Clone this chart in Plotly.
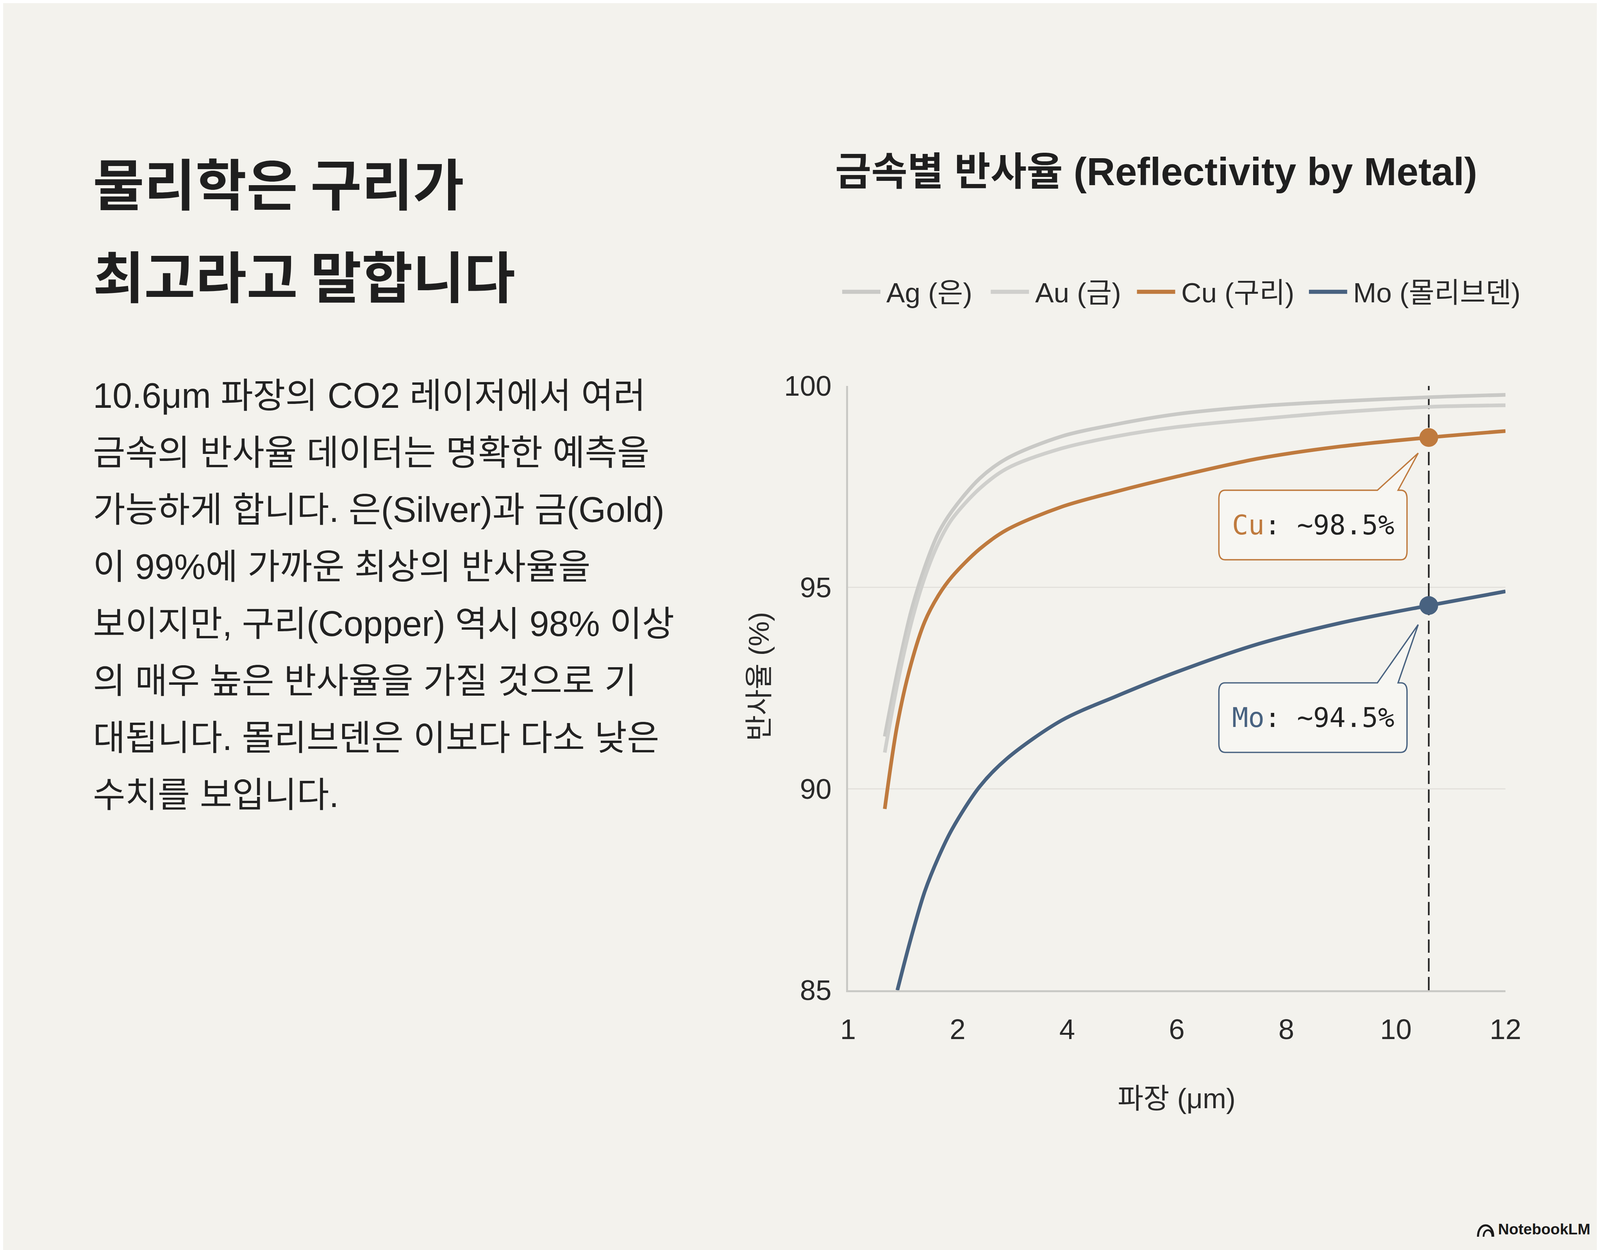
import plotly.graph_objects as go

# ---------------- data ----------------
wavelength = [0.67, 0.9, 1.15, 1.4, 1.65, 1.9, 2.4, 2.9, 3.9, 4.9, 6.0, 7.5, 9.0, 10.6, 12.0]
ag_reflect = [91.3, 92.9, 94.4, 95.5, 96.35, 96.9, 97.7, 98.2, 98.75, 99.05, 99.3, 99.5, 99.62, 99.72, 99.78]
au_reflect = [90.9, 92.6, 94.1, 95.25, 96.1, 96.7, 97.45, 97.95, 98.45, 98.75, 98.98, 99.18, 99.35, 99.48, 99.52]
cu_reflect = [89.5, 91.6, 93.1, 94.15, 94.8, 95.27, 95.95, 96.43, 97.0, 97.38, 97.75, 98.2, 98.5, 98.72, 98.88]
mo_wavelength = [0.9, 1.15, 1.4, 1.65, 1.9, 2.4, 2.9, 3.9, 4.9, 6.0, 7.5, 9.0, 10.6, 12.0]
mo_reflect = [85.0, 86.3, 87.45, 88.3, 89.0, 90.05, 90.75, 91.7, 92.3, 92.9, 93.6, 94.12, 94.55, 94.9]

series_names = ["Ag (은)", "Au (금)", "Cu (구리)", "Mo (몰리브덴)"]
series_x = [wavelength, wavelength, wavelength, mo_wavelength]
series_y = [ag_reflect, au_reflect, cu_reflect, mo_reflect]

x_tick_vals = [0, 2, 4, 6, 8, 10, 12]
x_tick_text = ["1", "2", "4", "6", "8", "10", "12"]
y_tick_vals = [85, 90, 95, 100]

laser_wavelength = 10.6
callout_metals = ["Cu", "Mo"]
callout_values = ["~98.5%", "~94.5%"]
callout_points = [cu_reflect[wavelength.index(laser_wavelength)],
                  mo_reflect[mo_wavelength.index(laser_wavelength)]]

slide_title = ["물리학은 구리가", "최고라고 말합니다"]
body_lines = [
    "10.6μm 파장의 CO2 레이저에서 여러",
    "금속의 반사율 데이터는 명확한 예측을",
    "가능하게 합니다. 은(Silver)과 금(Gold)",
    "이 99%에 가까운 최상의 반사율을",
    "보이지만, 구리(Copper) 역시 98% 이상",
    "의 매우 높은 반사율을 가질 것으로 기",
    "대됩니다. 몰리브덴은 이보다 다소 낮은",
    "수치를 보입니다.",
]
chart_title = "금속별 반사율 (Reflectivity by Metal)"
x_title = "파장 (μm)"
y_title = "반사율 (%)"

# ---------------- styles / layout ----------------
# Layout values are measured on the 5733x3200 reference; the page is drawn on
# a 4096x3200 canvas, so x distances use SX, y distances SY, fonts/strokes FS.
REF_W, REF_H = 5733, 3200
W, H = 4096, 3200
SX = W / REF_W
SY = H / REF_H
FS = 0.75

BG = "#f3f2ed"
TEXT = "#1f1f1f"
series_colors = ["#c9c9c6", "#cfcfcc", "#bf7a3e", "#486280"]
callout_colors = ["#bf7a3e", "#486280"]
LATIN_KR = "Liberation Sans, Noto Sans CJK KR, sans-serif"

PL, PR, PT, PB = 3027, 5383, 980, 2527   # plot area in reference pixels


def px(xr):
    return (xr - PL) / (PR - PL)


def py(yr):
    return (PB - yr) / (PB - PT)


def f(v):
    return v * FS


plot_w_css = (PR - PL) * SX


def pcss(xc):
    return (xc - PL * SX) / plot_w_css


fig = go.Figure()

for name, xs, ys, col in zip(series_names, series_x, series_y, series_colors):
    fig.add_trace(go.Scatter(
        x=xs, y=ys, name=name, mode="lines",
        line=dict(color=col, width=f(12.5), shape="spline", smoothing=0.9),
        showlegend=False, hoverinfo="skip"))

fig.add_trace(go.Scatter(
    x=[laser_wavelength] * len(callout_points), y=callout_points, mode="markers",
    marker=dict(size=f(64), color=callout_colors, line=dict(width=0)),
    showlegend=False, hoverinfo="skip"))

shapes = []
annotations = []

# dashed laser line
shapes.append(dict(type="line", xref="x", yref="y", x0=laser_wavelength, x1=laser_wavelength,
                   y0=y_tick_vals[0], y1=y_tick_vals[-1], layer="between",
                   line=dict(color="#222222", width=f(5.5), dash=f"{34 * SY:.1f}px,{14 * SY:.1f}px")))


def callout_path(top, tip_y, left=-752, right=-78, height=178, r=22,
                 base_l=-184, base_r=-110, tip_x=-38):
    T, B = top, top + height

    def p(x, y):
        return f"{x * SX:.1f},{-y * SY:.1f}"
    return (f"M {p(left + r, T)} L {p(base_l, T)} L {p(tip_x, tip_y)} L {p(base_r, T)} "
            f"L {p(right - r, T)} Q {p(right, T)} {p(right, T + r)} L {p(right, B - r)} "
            f"Q {p(right, B)} {p(right - r, B)} L {p(left + r, B)} Q {p(left, B)} {p(left, B - r)} "
            f"L {p(left, T + r)} Q {p(left, T)} {p(left + r, T)} Z")


callout_geom = [(135, 40), (198, 49)]
for metal, val, yv, col, (top, tipy) in zip(callout_metals, callout_values, callout_points,
                                            callout_colors, callout_geom):
    shapes.append(dict(type="path", xref="x", yref="y", xsizemode="pixel", ysizemode="pixel",
                       xanchor=laser_wavelength, yanchor=yv, path=callout_path(top, tipy),
                       fillcolor="#f7f6f2", line=dict(color=col, width=f(4.5)), layer="above"))
    annotations.append(dict(
        x=laser_wavelength, y=yv, xref="x", yref="y", showarrow=False,
        xshift=-415 * SX, yshift=-(top + 89) * SY, xanchor="center", yanchor="middle",
        text=f"<span style='color:{col}'>{metal}</span>: {val}",
        font=dict(family="DejaVu Sans Mono, monospace", size=f(92), color="#222222")))

# manual legend, laid out left to right and centred where the reference legend sits
legend_text_w = [289, 281, 369, 548]      # label widths in reference pixels
sample_len, sample_gap, item_gap = 137 * SX, 19 * SX, 73 * SX
widths = [f(w) for w in legend_text_w]
total = len(widths) * (sample_len + sample_gap) + sum(widths) + item_gap * (len(widths) - 1)
cursor = 4208 * SX - total / 2
legend_y = 739
for name, col, tw in zip(series_names, series_colors, widths):
    x0 = cursor
    shapes.append(dict(type="line", xref="paper", yref="paper",
                       x0=pcss(x0), x1=pcss(x0 + sample_len),
                       y0=py(legend_y), y1=py(legend_y), line=dict(color=col, width=f(14))))
    annotations.append(dict(x=pcss(x0 + sample_len + sample_gap), y=py(legend_y + 2),
                            xref="paper", yref="paper",
                            showarrow=False, xanchor="left", yanchor="middle", text=name,
                            font=dict(family=LATIN_KR, size=f(95), color="#2a2a2a")))
    cursor = x0 + sample_len + sample_gap + tw + item_gap

# chart title
annotations.append(dict(x=px(2978), y=py(431), xref="paper", yref="paper", showarrow=False,
                        xanchor="left", yanchor="middle", text=f"<b>{chart_title}</b>",
                        font=dict(family=LATIN_KR, size=f(134), color=TEXT)))

# axis titles
annotations.append(dict(x=px(4204), y=py(2804), xref="paper", yref="paper", showarrow=False,
                        xanchor="center", yanchor="middle", text=x_title,
                        font=dict(family=LATIN_KR, size=f(96), color="#2a2a2a")))
annotations.append(dict(x=px(2708), y=py(1724), xref="paper", yref="paper", showarrow=False,
                        xanchor="center", yanchor="middle", text=y_title, textangle=-90,
                        font=dict(family=LATIN_KR, size=f(96), color="#2a2a2a")))

# left slide text
for i, line in enumerate(slide_title):
    annotations.append(dict(x=px(318), y=py(456 + i * 237), xref="paper", yref="paper",
                            showarrow=False, xanchor="left", yanchor="middle",
                            text=f"<b>{line}</b>",
                            font=dict(family="Noto Sans CJK KR, sans-serif", size=f(190), color=TEXT)))
for i, line in enumerate(body_lines):
    annotations.append(dict(x=px(318), y=py(1005 + i * 146), xref="paper", yref="paper",
                            showarrow=False, xanchor="left", yanchor="middle", text=line,
                            font=dict(family=LATIN_KR, size=f(120), color="#222222")))

# NotebookLM mark (right aligned at the reference's right text edge)
logo_font = f(52)
logo_right = 5690 * SX
logo_text_w = 6.1 * logo_font
annotations.append(dict(x=pcss(logo_right), y=py(3138), xref="paper", yref="paper", showarrow=False,
                        xanchor="right", yanchor="middle", text="<b>NotebookLM</b>",
                        font=dict(family=LATIN_KR, size=logo_font, color="#1a1a1a")))
icon_x0 = logo_right - logo_text_w - f(16) - f(56)
for path_pts, lw in (((3, 0, 3, 52, 55, 52, 55, 0), 7), ((22, 0, 22, 30, 52, 30, 52, 0), 6)):
    a = [f(v) for v in path_pts]
    shapes.append(dict(type="path", xref="paper", yref="paper", xsizemode="pixel", ysizemode="pixel",
                       xanchor=pcss(icon_x0), yanchor=py(3158),
                       path=f"M {a[0]:.1f},{a[1]:.1f} C {a[2]:.1f},{a[3]:.1f} {a[4]:.1f},{a[5]:.1f} {a[6]:.1f},{a[7]:.1f}",
                       line=dict(color="#1a1a1a", width=f(lw))))

fig.update_layout(
    width=W, height=H,
    margin=dict(l=PL * SX, r=(REF_W - PR) * SX, t=PT * SY, b=(REF_H - PB) * SY, pad=0),
    paper_bgcolor=BG, plot_bgcolor=BG,
    showlegend=False,
    shapes=shapes, annotations=annotations,
    xaxis=dict(range=[0, 12], tickvals=x_tick_vals, ticktext=x_tick_text,
               showgrid=False, zeroline=False, showline=True, linecolor="#c9c9c5", linewidth=f(6),
               ticks="", ticklabelstandoff=33,
               tickfont=dict(family=LATIN_KR, size=f(97), color="#2a2a2a")),
    yaxis=dict(range=[85, 100], tickvals=y_tick_vals,
               showgrid=True, gridcolor="#e3e1dc", gridwidth=f(4), zeroline=False,
               showline=True, linecolor="#c9c9c5", linewidth=f(6),
               ticks="", ticklabelstandoff=23,
               tickfont=dict(family=LATIN_KR, size=f(97), color="#2a2a2a")),
)

fig.write_html("out.html")
